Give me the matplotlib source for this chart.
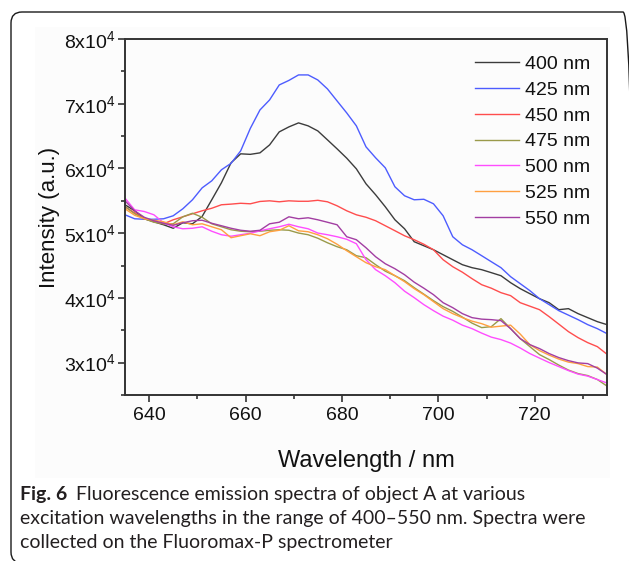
import matplotlib
matplotlib.use("Agg")
import matplotlib.pyplot as plt
from matplotlib.patches import FancyBboxPatch, Rectangle
from matplotlib.transforms import IdentityTransform
from matplotlib.ticker import MultipleLocator, FixedLocator, FixedFormatter

plt.rcParams['font.family'] = ['Liberation Sans', 'DejaVu Sans']
plt.rcParams['mathtext.fontset'] = 'custom'
plt.rcParams['mathtext.rm'] = 'Liberation Sans'
plt.rcParams['mathtext.it'] = 'Liberation Sans:italic'
plt.rcParams['mathtext.bf'] = 'Liberation Sans:bold'

# ---------------- data ----------------
wavelength = list(range(635, 736, 2))

ex_400 = [54390, 53460, 52230, 51760, 51300, 50760, 51610, 51450, 52580, 55160,
          57780, 60870, 62260, 62180, 62410, 63640, 65650, 66420, 67040, 66580,
          65800, 64420, 63030, 61590, 59940, 57630, 55930, 54080, 52070, 50680,
          48680, 48060, 47440, 46670, 45900, 45130, 44670, 44360, 43900, 43430,
          42350, 41430, 40650, 39880, 39260, 38180, 38340, 37570, 36950, 36330,
          35870]
ex_425 = [52840, 52226, 52150, 52150, 52226, 52690, 53770, 55160, 57000, 58090,
          59790, 60790, 62720, 66190, 69040, 70590, 72900, 73600, 74450, 74450,
          73670, 72290, 70430, 68580, 66580, 63340, 61640, 60100, 57170, 55780,
          55160, 55240, 54540, 52690, 49450, 48210, 47440, 46520, 45590, 44670,
          43280, 42200, 41120, 39880, 38960, 38030, 37340, 36640, 35870, 35250,
          34480]
ex_450 = [54080, 53150, 52230, 51840, 51450, 52070, 52530, 53000, 53460, 53850,
          54390, 54490, 54620, 54540, 54900, 55000, 54850, 55000, 54930, 54930,
          55080, 54850, 54230, 53460, 52840, 52460, 51920, 51150, 50380, 49600,
          48990, 48290, 47440, 45900, 44820, 43970, 42970, 42040, 41500, 40810,
          40350, 39260, 38720, 38180, 37100, 35950, 34790, 33860, 33090, 32470,
          31300]
ex_475 = [54120, 53000, 52230, 51690, 51450, 51450, 52530, 53080, 52460, 51450,
          50990, 50530, 50300, 50220, 50300, 50450, 50530, 50450, 50020, 49760,
          49220, 48520, 47910, 47440, 46520, 46210, 45130, 44130, 43430, 42660,
          41580, 40580, 39570, 38650, 37920, 37030, 36100, 35410, 35560, 36800,
          35250, 33710, 32470, 31240, 30470, 29620, 28850, 28310, 28000, 27390,
          26380]
ex_500 = [55420, 53610, 53350, 52840, 51610, 50990, 50680, 50760, 50990, 50300,
          49760, 49530, 49760, 49990, 50370, 50680, 50990, 51380, 50990, 50680,
          50020, 49760, 49450, 49060, 48370, 45900, 44360, 43430, 42350, 41040,
          40040, 38960, 38030, 37180, 36560, 35790, 35250, 34560, 33940, 33560,
          33020, 32260, 31400, 30700, 30010, 29390, 28770, 28230, 27920, 27390,
          26850]
ex_525 = [53770, 52770, 52230, 52000, 51760, 51300, 51760, 51300, 51450, 50990,
          50530, 49300, 49610, 49910, 49610, 50220, 50450, 51150, 50370, 50220,
          49760, 49140, 48290, 47290, 46360, 45440, 44820, 44360, 43430, 42510,
          41430, 40500, 39420, 38340, 37570, 36950, 36410, 36020, 35480, 35640,
          35790, 34410, 32780, 31860, 31160, 30550, 30080, 29850, 29390, 29310,
          28150]
ex_550 = [55000, 53460, 52460, 51920, 51530, 51220, 51610, 51920, 52000, 51530,
          51150, 50760, 50450, 50300, 50450, 51450, 51690, 52530, 52230, 52380,
          52070, 51690, 51300, 49450, 48990, 47750, 46360, 45280, 44510, 43580,
          42430, 41500, 40500, 39260, 38490, 37570, 36950, 36720, 36640, 36490,
          35250, 33710, 32780, 32170, 31400, 30780, 30310, 29960, 29850, 29150,
          28150]

series_labels = ["400 nm", "425 nm", "450 nm", "475 nm", "500 nm", "525 nm", "550 nm"]
series_values = [ex_400, ex_425, ex_450, ex_475, ex_500, ex_525, ex_550]
series_colors = ["#3c3c3c", "#4d5cff", "#ff4d4d", "#9a9a4a", "#ff4dff", "#ffa040", "#a23ea2"]

y_ticks = [30000, 40000, 50000, 60000, 70000, 80000]
y_tick_labels = [r"3x10$^{4}$", r"4x10$^{4}$", r"5x10$^{4}$",
                 r"6x10$^{4}$", r"7x10$^{4}$", r"8x10$^{4}$"]
x_ticks = [640, 660, 680, 700, 720]

caption_bold = "Fig. 6"
caption_lines = ["Fluorescence emission spectra of object A at various",
                 "excitation wavelengths in the range of 400\u2013550 nm. Spectra were",
                 "collected on the Fluoromax-P spectrometer"]

# ---------------- figure ----------------
W, H = 629, 561
fig = plt.figure(figsize=(W / 100, H / 100), dpi=100)
fig.patch.set_facecolor("white")

def px(x, y):
    return (x, H - y)

# very light panel of the original chart image
fig.add_artist(Rectangle((35 / W, 1 - 478 / H), (610 - 35) / W, (478 - 27) / H,
                         transform=fig.transFigure, facecolor="#fcfcfc",
                         edgecolor="none", zorder=0))

# rounded frame
x0, y0 = px(11, 563)
frame = FancyBboxPatch((x0, y0), 634 - 11, 563 - 12,
                       boxstyle="round,pad=0,rounding_size=11",
                       transform=IdentityTransform(), facecolor="none",
                       edgecolor="#1a1a1a", linewidth=1.0, zorder=5)
fig.add_artist(frame)

ax = fig.add_axes([125 / W, 1 - 395 / H, (607 - 125) / W, (395 - 39) / H])
ax.set_facecolor("#fcfcfc")

for vals, lab, col in zip(series_values, series_labels, series_colors):
    ax.plot(wavelength, vals, color=col, lw=1.0, label=lab)

ax.set_xlim(635, 735)
ax.set_ylim(25000, 80000)

ax.xaxis.set_major_locator(FixedLocator(x_ticks))
ax.xaxis.set_minor_locator(MultipleLocator(10))
ax.yaxis.set_major_locator(FixedLocator(y_ticks))
ax.yaxis.set_major_formatter(FixedFormatter(y_tick_labels))
ax.yaxis.set_minor_locator(MultipleLocator(5000))

for s in ax.spines.values():
    s.set_linewidth(1.4)
    s.set_color("#333333")

ax.tick_params(axis="both", which="major", direction="out", length=5, width=1.2,
               color="#333333", labelsize=14, labelcolor="#111111", pad=2)
ax.tick_params(axis="both", which="minor", direction="out", length=3, width=1.2,
               color="#333333")
ax.tick_params(axis="x", which="major", pad=4)
ax.tick_params(top=False, right=False, which="both")

ax.set_xlabel("Wavelength / nm", fontsize=17, color="#111111", labelpad=18)
ax.set_ylabel("Intensity (a.u.)", fontsize=16, color="#111111", labelpad=3)

leg = ax.legend(loc="upper right", bbox_to_anchor=(1.0, 1.0), frameon=False,
                fontsize=14, handlelength=2.3, handletextpad=0.3,
                labelspacing=0.42, borderaxespad=0.45)
for t in leg.get_texts():
    t.set_color("#111111")

# caption
cap_font = "Lato"
t_bold = fig.text(20 / W, 1 - 500 / H, caption_bold, fontsize=14, fontweight="bold",
                  family=cap_font, color="#231f20", va="baseline", ha="left")
ax.annotate(caption_lines[0], xy=(1, 0), xycoords=t_bold, xytext=(6, 0),
            textcoords="offset points", fontsize=14, family=cap_font,
            color="#231f20", va="bottom", ha="left", annotation_clip=False)
fig.text(20 / W, 1 - 524 / H, caption_lines[1], fontsize=14, family=cap_font,
         color="#231f20", va="baseline", ha="left")
fig.text(20 / W, 1 - 548 / H, caption_lines[2], fontsize=14, family=cap_font,
         color="#231f20", va="baseline", ha="left")

fig.savefig("out.png", dpi=100)
